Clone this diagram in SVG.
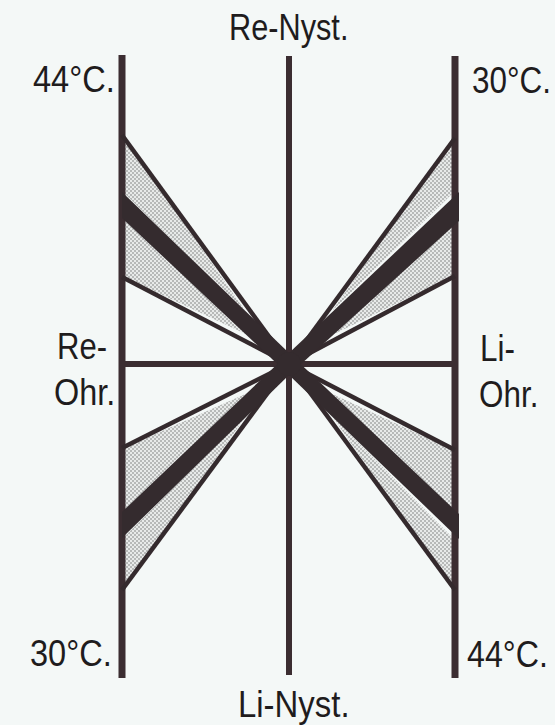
<svg xmlns="http://www.w3.org/2000/svg" width="555" height="725" viewBox="0 0 555 725">
  <defs>
    <pattern id="dots" width="4" height="4" patternUnits="userSpaceOnUse">
      <rect width="4" height="4" fill="#e8eae9"/>
      <circle cx="1" cy="1" r="0.8" fill="#7a7a7a"/>
      <circle cx="3" cy="3" r="0.8" fill="#7a7a7a"/>
    </pattern>
  </defs>
  <style>
    .axis { stroke: #3b2d31; stroke-linecap: butt; fill: none; }
    .thin { stroke: #342a2d; stroke-width: 4.5; stroke-linecap: butt; fill: none; }
    .band { fill: #342b2e; stroke: none; }
    .stip { fill: url(#dots); stroke: none; }
    .lbl { font-family: "Liberation Sans", Arial, sans-serif; font-size: 37px; fill: #1f1c1d; }
  </style>
  <rect x="0" y="0" width="555" height="725" fill="#f4f8f7"/>

  <g id="stipple">
    <polygon class="stip" points="124,137 124,193 246,312"/>
    <polygon class="stip" points="124,217 124,277 252,337"/>
    <polygon class="stip" points="453,140 453,193 332,311"/>
    <polygon class="stip" points="453,220 453,276 326,338"/>
    <polygon class="stip" points="124,448 124,513 252,391"/>
    <polygon class="stip" points="124,537 124,590 246,416"/>
    <polygon class="stip" points="453,450 453,515 326,391"/>
    <polygon class="stip" points="453,538 453,590 332,416"/>
  </g>

  <g id="connectors">
    <line class="axis" x1="122" y1="55" x2="122" y2="678" stroke-width="7"/>
    <line class="axis" x1="289" y1="56" x2="289" y2="675" stroke-width="6"/>
    <line class="axis" x1="455" y1="56" x2="455" y2="678" stroke-width="7"/>
    <line class="axis" x1="122" y1="364" x2="455" y2="364" stroke-width="6"/>

    <line class="thin" x1="122" y1="135" x2="289" y2="364"/>
    <line class="thin" x1="122" y1="277" x2="289" y2="364"/>
    <line class="thin" x1="455" y1="138" x2="289" y2="364"/>
    <line class="thin" x1="455" y1="276" x2="289" y2="364"/>
    <line class="thin" x1="122" y1="448" x2="289" y2="364"/>
    <line class="thin" x1="122" y1="590" x2="289" y2="364"/>
    <line class="thin" x1="455" y1="450" x2="289" y2="364"/>
    <line class="thin" x1="455" y1="590" x2="289" y2="364"/>

    <polygon class="band" points="122,192 122,218 289,375 289,353"/>
    <polygon class="band" points="459,192 459,221 289,375 289,353"/>
    <polygon class="band" points="122,512 122,538 289,375 289,353"/>
    <polygon class="band" points="459,514 459,539 289,375 289,353"/>
    <circle cx="289" cy="364" r="12" fill="#342b2e"/>
  </g>

  <g id="labels">
    <text class="lbl" transform="translate(229,40) scale(0.83,1)">Re-Nyst.</text>
    <text class="lbl" transform="translate(238,717) scale(0.89,1)">Li-Nyst.</text>
    <text class="lbl" transform="translate(33,92) scale(0.88,1)">44°C.</text>
    <text class="lbl" transform="translate(472,93) scale(0.85,1)">30°C.</text>
    <text class="lbl" transform="translate(30,666) scale(0.88,1)">30°C.</text>
    <text class="lbl" transform="translate(467,667) scale(0.87,1)">44°C.</text>
    <text class="lbl" transform="translate(57,359) scale(0.84,1)">Re-</text>
    <text class="lbl" transform="translate(54,405) scale(0.875,1)">Ohr.</text>
    <text class="lbl" transform="translate(480,361) scale(0.85,1)">Li-</text>
    <text class="lbl" transform="translate(479,407) scale(0.85,1)">Ohr.</text>
  </g>
</svg>
